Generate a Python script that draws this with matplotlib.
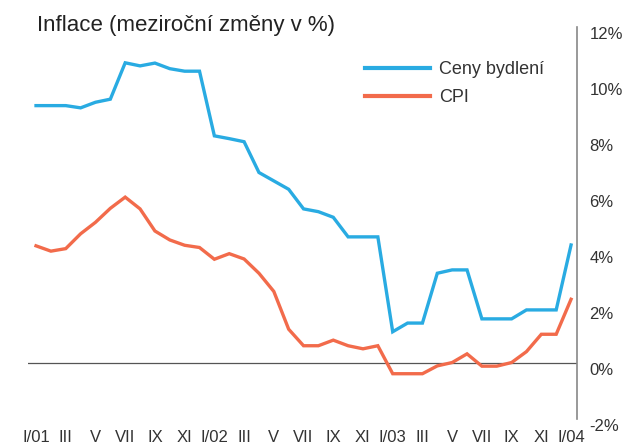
import matplotlib
matplotlib.use("Agg")
import matplotlib.pyplot as plt
import matplotlib.transforms as mtransforms

plt.rcParams['font.family'] = ['Liberation Sans', 'DejaVu Sans']

title = "Inflace (meziroční změny v %)"
months = ["I/01", "II", "III", "IV", "V", "VI", "VII", "VIII", "IX", "X", "XI", "XII",
          "I/02", "II", "III", "IV", "V", "VI", "VII", "VIII", "IX", "X", "XI", "XII",
          "I/03", "II", "III", "IV", "V", "VI", "VII", "VIII", "IX", "X", "XI", "XII",
          "I/04"]
housing = [9.18, 9.18, 9.18, 9.10, 9.30, 9.41, 10.71, 10.60, 10.70, 10.50, 10.41, 10.41,
           8.10, 8.00, 7.89, 6.79, 6.49, 6.19, 5.49, 5.39, 5.19, 4.49, 4.49, 4.49,
           1.10, 1.41, 1.41, 3.19, 3.31, 3.31, 1.56, 1.56, 1.56, 1.88, 1.88, 1.88,
           4.20]
cpi = [4.17, 3.98, 4.07, 4.60, 5.01, 5.51, 5.91, 5.49, 4.70, 4.38, 4.19, 4.11,
       3.69, 3.89, 3.70, 3.19, 2.54, 1.19, 0.60, 0.60, 0.80, 0.60, 0.49, 0.60,
       -0.40, -0.40, -0.40, -0.12, 0.00, 0.31, -0.13, -0.13, 0.00, 0.39, 1.01, 1.01,
       2.26]
series_names = ["Ceny bydlení", "CPI"]
yticks = [-2, 0, 2, 4, 6, 8, 10, 12]

blue = "#29ABE2"
red = "#F26B4B"

fig = plt.figure(figsize=(6.29, 4.48), dpi=100)
ax = fig.add_axes([28/629, 1 - 418.5/448, (577 - 28)/629, (418.5 - 26.7)/448])

x = list(range(len(months)))
ax.plot(x, housing, color=blue, lw=2.4, solid_joinstyle='miter', label=series_names[0])
ax.plot(x, cpi, color=red, lw=2.4, solid_joinstyle='miter', label=series_names[1])
ax.axhline(0, color="#555555", lw=0.9, zorder=0)

ax.set_xlim(-0.54, 36.4)
ax.set_ylim(-2, 12)

for s in ["top", "left", "bottom"]:
    ax.spines[s].set_visible(False)
ax.spines["right"].set_color("#888888")
ax.spines["right"].set_linewidth(1.2)

ax.yaxis.tick_right()
ax.set_yticks(yticks)
ax.set_yticklabels([f"{v}%" for v in yticks], fontsize=12, color="#333333")
ax.tick_params(axis="y", length=0, pad=9)
off = mtransforms.ScaledTranslation(0, -6/100, fig.dpi_scale_trans)
for lab in ax.get_yticklabels():
    lab.set_transform(lab.get_transform() + off)

ax.set_xticks(x[::2])
ax.set_xticklabels(months[::2], fontsize=12, color="#333333")
ax.tick_params(axis="x", length=0, pad=8)

fig.text(37/629, 1 - 25/448, title, fontsize=16, color="#222222", va="center", ha="left")

leg = ax.legend(loc="upper left", bbox_to_anchor=(0.60, 0.93), frameon=False,
                fontsize=13, handlelength=3.6, handletextpad=0.5, labelspacing=0.6,
                borderaxespad=0)
for t in leg.get_texts():
    t.set_color("#333333")
for l in leg.get_lines():
    l.set_linewidth(3)

fig.savefig("out.png", dpi=100)
